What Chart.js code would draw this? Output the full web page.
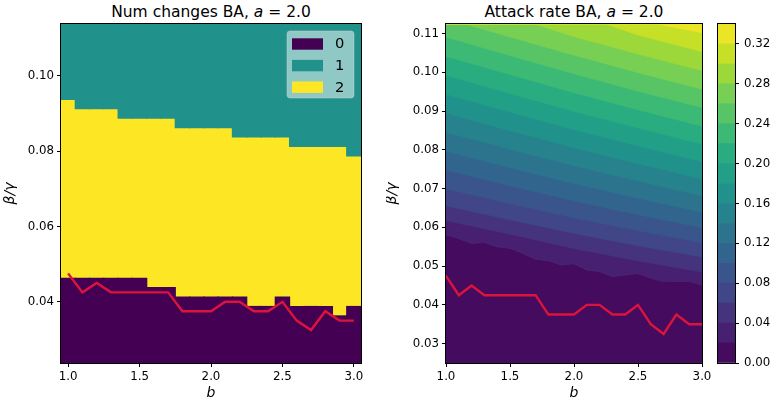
<!DOCTYPE html>
<html>
<head>
<meta charset="utf-8">
<script src="https://cdn.jsdelivr.net/npm/chart.js@4.4.0/dist/chart.umd.min.js"></script>
<style>
  body { margin: 0; background: #fff; width: 772px; height: 405px; position: relative; overflow: hidden; font-family: "DejaVu Sans", sans-serif; }
  canvas { position: absolute; top: 0; }
  .title { position: absolute; top: 3px; font-size: 15.5px; line-height: 18px; text-align: center; color: #000; white-space: nowrap; }
</style>
</head>
<body>
<div class="title" style="left:61px;width:300px">Num changes BA, <i>a</i> = 2.0</div>
<div class="title" style="left:446px;width:256px">Attack rate BA, <i>a</i> = 2.0</div>
<canvas id="left" width="386" height="405" style="left:0"></canvas>
<canvas id="right" width="330" height="405" style="left:386px"></canvas>
<canvas id="cbar" width="66" height="405" style="left:706px"></canvas>
<script>
// ---- data ----
const bValues = [1.0, 1.1, 1.2, 1.3, 1.4, 1.5, 1.6, 1.7, 1.8, 1.9, 2.0, 2.1, 2.2, 2.3, 2.4, 2.5, 2.6, 2.7, 2.8, 2.9, 3.0];
const bStep = 0.1;
const betaMin = 0.025;
const betaMax = 0.1125;
const betaStep = 0.0025;

// highest beta/gamma grid cell that still has 0 changes / 2 changes, per b column
const zeroTop = [0.045, 0.045, 0.045, 0.045, 0.045, 0.045, 0.0425, 0.0425, 0.04, 0.04, 0.04, 0.04, 0.04, 0.0375, 0.0375, 0.04, 0.0375, 0.0375, 0.0375, 0.035, 0.0375];
const twoTop = [0.0925, 0.09, 0.09, 0.09, 0.0875, 0.0875, 0.0875, 0.0875, 0.085, 0.085, 0.085, 0.085, 0.0825, 0.0825, 0.0825, 0.0825, 0.08, 0.08, 0.08, 0.08, 0.0775];
const classLabels = ['0', '1', '2'];

// red threshold line
const threshold = [0.0475, 0.0425, 0.045, 0.0425, 0.0425, 0.0425, 0.0425, 0.0425, 0.0375, 0.0375, 0.0375, 0.04, 0.04, 0.0375, 0.0375, 0.04, 0.035, 0.0325, 0.0375, 0.035, 0.035];

const xTicks = [1.0, 1.5, 2.0, 2.5, 3.0];
const leftYTicks = [0.04, 0.06, 0.08, 0.10];
const rightYTicks = [0.03, 0.04, 0.05, 0.06, 0.07, 0.08, 0.09, 0.10, 0.11];
const levels = [0, 0.02, 0.04, 0.06, 0.08, 0.10, 0.12, 0.14, 0.16, 0.18, 0.20, 0.22, 0.24, 0.26, 0.28, 0.30, 0.32, 0.34];
const cbTicks = [0, 0.04, 0.08, 0.12, 0.16, 0.20, 0.24, 0.28, 0.32];

// contour boundaries [b, beta/gamma] for levels 0.02 ... 0.32
const c02 = [[1.0, 0.0581], [1.1, 0.0571], [1.2, 0.0559], [1.3, 0.0561], [1.4, 0.0550], [1.5, 0.0546], [1.6, 0.0533], [1.7, 0.0518], [1.8, 0.0514], [1.9, 0.0503], [2.0, 0.0506], [2.1, 0.0490], [2.2, 0.0486], [2.3, 0.0473], [2.4, 0.0477], [2.5, 0.0481], [2.6, 0.0469], [2.7, 0.0460], [2.8, 0.0460], [2.9, 0.0461], [3.0, 0.0451]];
const c04 = [[1, 0.0618], [1.5, 0.0583], [2, 0.0546], [2.5, 0.0514], [3, 0.0485]];
const c06 = [[1, 0.0656], [1.5, 0.0620], [2, 0.0585], [2.5, 0.0553], [3, 0.0524]];
const c08 = [[1, 0.0700], [1.5, 0.0662], [2, 0.0625], [2.5, 0.0592], [3, 0.0561]];
const c10 = [[1, 0.0748], [1.5, 0.0708], [2, 0.0669], [2.5, 0.0633], [3, 0.0600]];
const c12 = [[1, 0.0797], [1.5, 0.0755], [2, 0.0714], [2.5, 0.0676], [3, 0.0640]];
const c14 = [[1, 0.0846], [1.5, 0.0802], [2, 0.0760], [2.5, 0.0720], [3, 0.0682]];
const c16 = [[1, 0.0895], [1.5, 0.0850], [2, 0.0806], [2.5, 0.0765], [3, 0.0725]];
const c18 = [[1, 0.0944], [1.5, 0.0898], [2, 0.0853], [2.5, 0.0811], [3, 0.0770]];
const c20 = [[1, 0.0993], [1.5, 0.0946], [2, 0.0900], [2.5, 0.0857], [3, 0.0815]];
const c22 = [[1, 0.1042], [1.5, 0.0995], [2, 0.0948], [2.5, 0.0904], [3, 0.0862]];
const c24 = [[1, 0.1092], [1.5, 0.1044], [2, 0.0997], [2.5, 0.0952], [3, 0.0910]];
const c26 = [[1, 0.1125], [1.15, 0.1125], [1.5, 0.1092], [2, 0.1045], [2.5, 0.1000], [3, 0.0957]];
const c28 = [[1, 0.1125], [1.7, 0.1125], [2, 0.1093], [2.5, 0.1048], [3, 0.1005]];
const c30 = [[1, 0.1125], [2.25, 0.1125], [2.5, 0.1097], [3, 0.1054]];
const c32 = [[1, 0.1125], [2.65, 0.1125], [3, 0.1103]];
const contours = [c02, c04, c06, c08, c10, c12, c14, c16, c18, c20, c22, c24, c26, c28, c30, c32];

// ---- colours ----
const viridisStops = ['#440154', '#482475', '#414487', '#355f8d', '#2a788e', '#21918c', '#22a884', '#44bf70', '#7ad151', '#bddf26', '#fde725'];
function viridis(t) {
  const p = Math.max(0, Math.min(1, t)) * 10;
  const i = Math.min(9, Math.floor(p));
  const f = p - i;
  const a = viridisStops[i], b = viridisStops[i + 1];
  const ch = (h, k) => parseInt(h.substr(1 + 2 * k, 2), 16);
  const c = [0, 1, 2].map(k => Math.round(ch(a, k) + (ch(b, k) - ch(a, k)) * f));
  return `rgb(${c[0]},${c[1]},${c[2]})`;
}
const nBands = levels.length - 1;
const bandColor = k => viridis((k + 0.5) / nBands);
const classColors = classLabels.map((_, i) => viridis(i / (classLabels.length - 1)));
const lineRed = '#dc143c';

Chart.defaults.font.family = 'DejaVu Sans';
Chart.defaults.color = '#000';

const tickFont = { family: 'DejaVu Sans', size: 11.8 };
const labelFont = { family: 'DejaVu Sans', size: 14, style: 'italic', lineHeight: 1 };

function tickAxis(tickValues, digits, extra) {
  return Object.assign({
    offset: false,
    afterBuildTicks: s => { s.ticks = tickValues.map(v => ({ value: v })); },
    ticks: { font: tickFont, color: '#000', padding: 3, maxRotation: 0, autoSkip: false, callback: v => v.toFixed(digits) },
    grid: { offset: false, drawOnChartArea: false, drawTicks: true, tickLength: 4, color: '#000', lineWidth: 1 },
    border: { display: false }
  }, extra);
}

// box round the plot area
const frame = {
  id: 'frame',
  afterDatasetsDraw(chart) {
    const { ctx, chartArea: a } = chart;
    ctx.save();
    ctx.strokeStyle = '#000';
    ctx.lineWidth = 1;
    ctx.strokeRect(Math.round(a.left) - 0.5, Math.round(a.top) - 0.5, Math.round(a.right - a.left) + 1, Math.round(a.bottom - a.top) + 1);
    ctx.restore();
  }
};

// matplotlib style legend in the upper right of the plot
const boxLegend = {
  id: 'boxLegend',
  afterDatasetsDraw(chart) {
    const { ctx, chartArea: a } = chart;
    const items = chart.data.datasets.filter(d => d.type === 'bar');
    const w = 67, h = 67, x = a.right - 7 - w, y = a.top + 7;
    ctx.save();
    ctx.beginPath();
    ctx.roundRect(x, y, w, h, 3);
    ctx.fillStyle = 'rgba(255,255,255,0.5)';
    ctx.fill();
    ctx.strokeStyle = 'rgba(204,204,204,0.5)';
    ctx.lineWidth = 1;
    ctx.stroke();
    ctx.font = '14.7px "DejaVu Sans"';
    ctx.textBaseline = 'middle';
    items.forEach((d, i) => {
      const cy = y + 13 + i * 21.6;
      ctx.fillStyle = d.backgroundColor;
      ctx.fillRect(x + 5, cy - 5.7, 31, 11.4);
      ctx.fillStyle = '#000';
      ctx.fillText(d.label, x + 48, cy + 0.5);
    });
    ctx.restore();
  }
};

// ---- left: number of changes ----
const half = betaStep / 2;
const classRanges = [
  i => [betaMin - half, zeroTop[i] + half],
  i => [twoTop[i] + half, betaMax + half],
  i => [zeroTop[i] + half, twoTop[i] + half]
];
const leftBars = classLabels.map((lab, c) => ({
  type: 'bar',
  label: lab,
  data: bValues.map((b, i) => ({ x: b, y: classRanges[c](i) })),
  backgroundColor: classColors[c],
  borderWidth: 0,
  inflateAmount: 0.6,
  grouped: false,
  barPercentage: 1,
  categoryPercentage: 1,
  order: 5
}));

new Chart(document.getElementById('left'), {
  type: 'bar',
  data: {
    datasets: [
      ...leftBars,
      {
        type: 'line',
        label: 'threshold',
        data: bValues.map((b, i) => ({ x: b, y: threshold[i] })),
        borderColor: lineRed,
        borderWidth: 2.4,
        pointRadius: 0,
        fill: false,
        order: 0
      }
    ]
  },
  options: {
    responsive: false,
    animation: false,
    layout: { padding: { left: 0, top: 24, right: 25, bottom: 0 } },
    plugins: { legend: { display: false }, tooltip: { enabled: false } },
    scales: {
      x: tickAxis(xTicks, 1, {
        type: 'linear',
        min: bValues[0] - bStep / 2,
        max: bValues[bValues.length - 1] + bStep / 2,
        afterFit: s => { s.height = 42; },
        title: { display: true, text: 'b', font: labelFont, color: '#000', padding: { top: 0, bottom: 5 } }
      }),
      y: tickAxis(leftYTicks, 2, {
        type: 'linear',
        min: betaMin - half,
        max: betaMax + half,
        afterFit: s => { s.width = 61; },
        title: { display: true, text: 'β/γ', font: labelFont, color: '#000', padding: { top: 3, bottom: 0 } }
      })
    }
  },
  plugins: [frame, boxLegend]
});

// ---- right: attack rate contours ----
const contourSets = [];
for (let k = 0; k < nBands; k++) {
  const line = k === 0 ? contours[0] : contours[k - 1];
  contourSets.push({
    label: 'band ' + levels[k].toFixed(2),
    data: line.map(([b, v]) => ({ x: b, y: v })),
    fill: k === 0 ? 'start' : 'end',
    backgroundColor: bandColor(k),
    borderColor: bandColor(k),
    borderWidth: 1,
    pointRadius: 0,
    tension: 0,
    clip: 0,
    order: 50 - k
  });
}

new Chart(document.getElementById('right'), {
  type: 'line',
  data: {
    datasets: [
      ...contourSets,
      {
        label: 'threshold',
        data: bValues.map((b, i) => ({ x: b, y: threshold[i] })),
        borderColor: lineRed,
        borderWidth: 2.4,
        pointRadius: 0,
        fill: false,
        order: 0
      }
    ]
  },
  options: {
    responsive: false,
    animation: false,
    layout: { padding: { left: 0, top: 24, right: 14, bottom: 0 } },
    plugins: { legend: { display: false }, tooltip: { enabled: false } },
    scales: {
      x: tickAxis(xTicks, 1, {
        type: 'linear',
        min: bValues[0],
        max: bValues[bValues.length - 1],
        afterFit: s => { s.height = 42; },
        title: { display: true, text: 'b', font: labelFont, color: '#000', padding: { top: 0, bottom: 5 } }
      }),
      y: tickAxis(rightYTicks, 2, {
        type: 'linear',
        min: betaMin,
        max: betaMax,
        afterFit: s => { s.width = 60; },
        title: { display: true, text: 'β/γ', font: labelFont, color: '#000', padding: { top: -1, bottom: 0 } }
      })
    }
  },
  plugins: [frame]
});

// ---- colour bar ----
new Chart(document.getElementById('cbar'), {
  type: 'bar',
  data: {
    labels: [''],
    datasets: levels.slice(1).map((lv, k) => ({
      label: lv.toFixed(2),
      data: [lv - levels[k]],
      backgroundColor: bandColor(k),
      borderWidth: 0,
      barPercentage: 1,
      categoryPercentage: 1
    }))
  },
  options: {
    responsive: false,
    animation: false,
    layout: { padding: { left: 12, top: 24, right: 0, bottom: 42 } },
    plugins: { legend: { display: false }, tooltip: { enabled: false } },
    scales: {
      x: { display: false, stacked: true },
      y: tickAxis(cbTicks, 2, {
        stacked: true,
        position: 'right',
        min: levels[0],
        max: levels[levels.length - 1],
        afterFit: s => { s.width = 37; },
        ticks: { font: tickFont, color: '#000', padding: 5, autoSkip: false, callback: v => v.toFixed(2) }
      })
    }
  },
  plugins: [frame]
});
</script>
</body>
</html>
